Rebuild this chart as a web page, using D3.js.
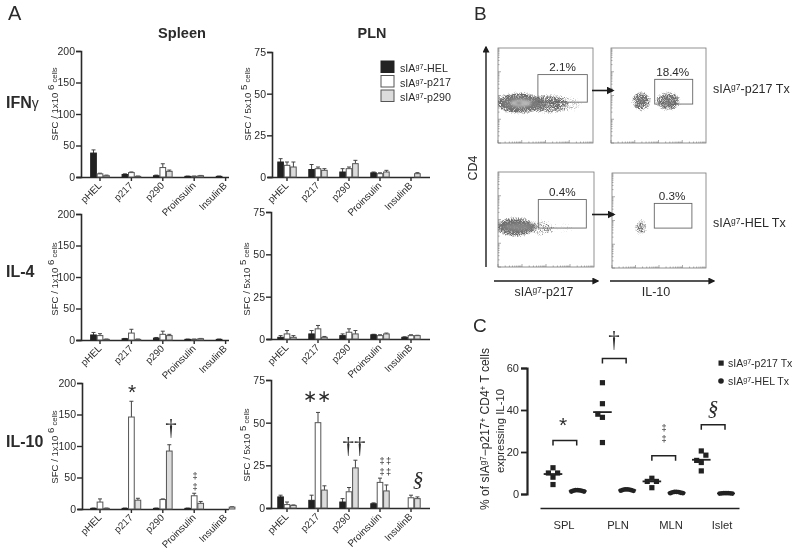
<!DOCTYPE html>
<html><head><meta charset="utf-8">
<script src="https://cdnjs.cloudflare.com/ajax/libs/d3/7.8.5/d3.min.js"></script>
<style>
html,body{margin:0;padding:0;background:#fff}
svg{display:block;filter:blur(0.3px)}
text{font-family:"Liberation Sans",Arial,sans-serif;fill:#2b2b2b}
</style></head><body>
<svg id="c" width="800" height="557"></svg>
<script>
// ---- data ----
const categories = ["pHEL","p217","p290","Proinsulin","InsulinB"];
const seriesNames = ["HEL","p217","p290"];
const spleenTicks = [0,50,100,150,200];
const plnTicks = [0,25,50,75];

const ifnSpleenVals = [[38,5,2],[4,7,1],[2,15,9],[1,1,2],[1,0,0]];
const ifnSpleenErr  = [[5,1,1],[1,1,.5],[1,6,2],[.5,.5,.5],[.5,0,0]];
const ifnPlnVals = [[9,7,6],[4.5,5,4],[3,5,8],[2.5,2,3],[0,0,2]];
const ifnPlnErr  = [[2,2,3],[3,1,1],[2,1,2],[.5,.5,1],[0,0,.6]];
const il4SpleenVals = [[8,7,1],[2,11,1],[3,9,7],[1,1,2],[1,0,0]];
const il4SpleenErr  = [[4,3,.5],[.5,6,.5],[1,5,2],[.5,.5,.5],[.5,0,0]];
const il4PlnVals = [[1,3,1],[3,6,1],[2,4,3],[2.5,2,3],[1,2,2]];
const il4PlnErr  = [[1,2,1],[2,2,.5],[1,2,2],[.3,.5,.5],[.3,.5,.2]];
const il10SpleenVals = [[1,11,1],[1,146,14],[1,15,92],[1,21,9],[0,0,3]];
const il10SpleenErr  = [[.5,5,.5],[.5,25,3],[.5,1,10],[.5,4,3],[0,0,.5]];
const il10PlnVals = [[6.5,2,1.5],[4.5,50,10.5],[3.5,9.5,23.5],[2.5,15,10],[0,6,5.5]];
const il10PlnErr  = [[1,1.5,.3],[3,6,2.5],[2,2.5,4.5],[.5,2.5,3.5],[0,1.5,1]];

const scatterGroups = ["SPL","PLN","MLN","Islet"];
const p217Points = [[4.5,12.5,8,10,10],[53,43,24.5,36.5,38],[3,7.5,6,6],[20.5,11,15,16,18.5]];
const helPoints  = [[1.2,1.6,1.8,1.8,1.7,1.5,1.2],[1.6,2,2.2,2.2,2.1,1.8,1.5],[.4,.8,1,1,.9,.6,.4],[.2,.3,.4,.4,.4,.3,.2]];
const p217Means = [9.5,39,6,16.3];
const helMeans  = [1.5,1.9,.7,.3];
const scatterTicks = [0,20,40,60];
const bracketLevels = [25.5,64.5,18.2,33];

const flowPct = ["2.1%","18.4%","0.4%","0.3%"];

// ---- helpers ----
const svg = d3.select("#c");
const barFill = ["#222","#fff","#dcdcdc"];
const barStroke = ["#222","#555","#555"];

function sup(sel, parts){ // parts: [text, isSup]
  parts.forEach(([t,s],i)=>{
    const ts = sel.append("tspan").text(t);
    if(s){ ts.attr("dy","-0.4em").attr("font-size","0.68em"); }
    else if(i>0 && parts[i-1][1]){ ts.attr("dy","0.27em"); }
  });
  return sel;
}
function barPanel(cfg){
  const {x0,x1,yTop,y0,max,ticks,vals,errs,first,step,title,power,titleX,titleY} = cfg;
  const g = svg.append("g");
  const y = d3.scaleLinear().domain([0,max]).range([y0,yTop]);
  const x = d3.scaleBand().domain(categories)
    .range([first-step/2, first+step*4.5]).paddingInner(.38).paddingOuter(.19);
  const xi = d3.scaleBand().domain(seriesNames).range([0,x.bandwidth()]);
  const gy = g.append("g").attr("transform",`translate(${x0},0)`)
    .call(d3.axisLeft(y).tickValues(ticks).tickSize(5).tickPadding(1));
  const gx = g.append("g").attr("transform",`translate(0,${y0})`)
    .call(d3.axisBottom(x).tickSize(4).tickPadding(2));
  gx.select(".domain").attr("d",`M${x0-4},0.5H${x1}`);
  [gx,gy].forEach(a=>{a.selectAll(".domain").attr("stroke","#2a2a2a").attr("stroke-width",1.6);
    a.selectAll(".tick line").attr("stroke","#2a2a2a").attr("stroke-width",1.4);});
  gy.selectAll("text").attr("font-size",10.5).attr("fill","#333").style("font-family",'"Liberation Sans"');
  gx.selectAll("text").attr("font-size",9.8).attr("fill","#333").style("font-family",'"Liberation Sans"')
    .attr("text-anchor","end").attr("dx","-5").attr("dy","2").attr("transform","rotate(-45)");
  const groups = g.selectAll(".grp").data(categories).join("g")
    .attr("transform",c=>`translate(${x(c)},0)`);
  groups.each(function(c,ci){
    const gg = d3.select(this);
    seriesNames.forEach((s,si)=>{
      const v = vals[ci][si], e = errs[ci][si];
      if(v<=0) return;
      const bx = xi(s), bw = xi.bandwidth(), cx = bx+bw/2;
      if(e>0){
        gg.append("line").attr("x1",cx).attr("x2",cx).attr("y1",y(v)).attr("y2",y(v+e)).attr("stroke","#444").attr("stroke-width",1);
        gg.append("line").attr("x1",cx-2).attr("x2",cx+2).attr("y1",y(v+e)).attr("y2",y(v+e)).attr("stroke","#444").attr("stroke-width",1);
      }
      gg.append("rect").attr("x",bx+.4).attr("width",bw-.8).attr("y",y(v)).attr("height",Math.max(0.5,y0-y(v)))
        .attr("fill",barFill[si]).attr("stroke",barStroke[si]).attr("stroke-width",1);
    });
  });
  const t = g.append("text").attr("font-size",9.6).attr("fill","#444")
    .attr("transform",`translate(${titleX},${titleY}) rotate(-90)`).attr("text-anchor","middle");
  t.append("tspan").text(title);
  t.append("tspan").text(" "+power).attr("dy",-4);
  t.append("tspan").text(" cells").attr("dy",3).attr("font-size",7.6);
}
const S = {first:100,step:31.4,x1:229,max:200,ticks:spleenTicks};
const P = {first:287,step:31,x1:430,max:75,ticks:plnTicks};
barPanel({...S,x0:81,yTop:51,y0:177,vals:ifnSpleenVals,errs:ifnSpleenErr,title:"SFC / 1x10",power:"6",titleX:58,titleY:104});
barPanel({...P,x0:272,yTop:52,y0:177,vals:ifnPlnVals,errs:ifnPlnErr,title:"SFC / 5x10",power:"5",titleX:251,titleY:104});
barPanel({...S,x0:81,yTop:214,y0:340,vals:il4SpleenVals,errs:il4SpleenErr,title:"SFC / 1x10",power:"6",titleX:58,titleY:279});
barPanel({...P,x0:271,yTop:212,y0:339,vals:il4PlnVals,errs:il4PlnErr,title:"SFC / 5x10",power:"5",titleX:250,titleY:279});
barPanel({...S,x0:82,yTop:383,y0:509,vals:il10SpleenVals,errs:il10SpleenErr,title:"SFC / 1x10",power:"6",titleX:58,titleY:447});
barPanel({...P,x0:271,yTop:380,y0:508,vals:il10PlnVals,errs:il10PlnErr,title:"SFC / 5x10",power:"5",titleX:250,titleY:445});

function label(t,x,y,size,opt={}){
  const e = svg.append("text").attr("x",x).attr("y",y).attr("font-size",size)
    .attr("font-weight",opt.bold?"bold":null).attr("text-anchor",opt.anchor||"start").text(t);
  if(opt.serif) e.style("font-family",'"Liberation Serif"');
  if(opt.italic) e.attr("font-style","italic");
  return e;
}
label("A",8,20,20); label("B",474,20,19); label("C",473,332,19);
label("Spleen",182,38,14.6,{bold:1,anchor:"middle"});
label("PLN",372,38,14.4,{bold:1,anchor:"middle"});
const ifn = label("IFN",6,108,16,{bold:1});
ifn.append("tspan").text("γ").attr("font-weight","normal").attr("font-size",14);
label("IL-4",6,277,16,{bold:1});
label("IL-10",6,447,16,{bold:1});

// significance marks
const marks = [["*",132,399,21],["∗∗",317,402,17],["*",563,432,21]];
marks.forEach(([t,x,y,s])=>label(t,x,y,s,{anchor:"middle"}));
const daggers = [["†",171,435,23],["††",354,453,23],["†",614,347,23]];
daggers.forEach(([t,x,y,s])=>label(t,x,y,s,{anchor:"middle",serif:1}));
const sections = [["§",418,486,21],["§",713,415,21]];
sections.forEach(([t,x,y,s])=>label(t,x,y,s,{anchor:"middle",serif:1,italic:1}));
// double daggers are stacked as separate texts, small enough not to collide
const stacked = [["‡",195,479],["‡",195,490],["‡‡",386,464],["‡‡",386,475],["‡",664,431],["‡",664,442]];
stacked.forEach(([t,x,y])=>label(t,x,y,9.2,{anchor:"middle"}).attr("letter-spacing",t.length>1?1.5:0));

// legend A
[["HEL",61],["p217",75.5],["p290",90]].forEach(([n,y],i)=>{
  svg.append("rect").attr("x",381).attr("y",y).attr("width",13).attr("height",11.5)
    .attr("fill",barFill[i]).attr("stroke",barStroke[i]).attr("stroke-width",1);
  sup(svg.append("text").attr("x",400).attr("y",y+11).attr("font-size",10.7),
    [["sIA",false],["g7",true],["-"+n,false]]);
});

// ---- flow plots ----
const defs = svg.append("defs");
function speck(id,blur,seed){
  const f = defs.append("filter").attr("id",id).attr("x","-40%").attr("y","-60%").attr("width","180%").attr("height","220%")
    .attr("color-interpolation-filters","sRGB");
  f.append("feGaussianBlur").attr("in","SourceGraphic").attr("stdDeviation",blur).attr("result","b");
  f.append("feTurbulence").attr("type","fractalNoise").attr("baseFrequency",1.3).attr("numOctaves",1).attr("seed",seed).attr("result","n");
  f.append("feColorMatrix").attr("in","n").attr("type","matrix")
    .attr("values","0 0 0 0 .42  0 0 0 0 .42  0 0 0 0 .42  1.6 0 0 0 -.2").attr("result","d");
  f.append("feComposite").attr("in","d").attr("in2","b").attr("operator","in").attr("result","m");
  const ct = f.append("feComponentTransfer").attr("in","m");
  ct.append("feFuncA").attr("type","linear").attr("slope",3.2).attr("intercept",-.75);
}
speck("sp1",2.4,3); speck("sp2",2.8,8);
const soft = defs.append("filter").attr("id","soft"); soft.append("feGaussianBlur").attr("stdDeviation",1.2);

// cloud values in plot units (0-100): cx, cy, rx, ry, opacity
const cloudsA = [[22,58,24,11,1],[52,59,20,10,.75],[72,59,18,10,.42]];
const coreA = [[24,58,20,7,"#808080",.7],[24,58,11,3.6,"#bdbdbd",.9],[22,58,3,1,"#666",.9],[44,59,8,6,"#777",.6]];
const cloudsB = [[32,56,10,10,.9],[60,56,13,10,.85]];
const cloudsC = [[18,58,20,10,1],[46,59,10,10,.5],[66,59,16,9,.32]];
const coreC = [[21,58,19,6,"#777",.75],[21,58,14,3,"#8f8f8f",.7]];
const cloudsD = [[31,57,7,9,.68]];
const gateRects = [[42,28,94,57],[46,33,86,59],[42,29,92,59],[45,32,85,58]];
const flowClouds = [cloudsA,cloudsB,cloudsC,cloudsD];
const flowCores = [coreA,[[32,56,5,4,"#777",.55],[60,56,7,4,"#777",.5]],coreC,[[31,57,2,2,"#777",.45]]];
const flowBox = [[498,593,48,143],[611,706,48,143],[498,594,172,267],[612,706,173,268]];
const decades = d3.range(1,10).flatMap(m=>[m,m*10,m*100,m*1000]);

flowBox.forEach(([l,r,t,b],i)=>{
  const x = d3.scaleLinear().domain([0,100]).range([l,r]);
  const y = d3.scaleLinear().domain([0,100]).range([t,b]);
  const g = svg.append("g");
  g.append("rect").attr("x",l).attr("y",t).attr("width",r-l).attr("height",b-t).attr("fill","#fff").attr("stroke","#777").attr("stroke-width",.8);
  const clip = "cp"+i;
  defs.append("clipPath").attr("id",clip).append("rect").attr("x",l).attr("y",t).attr("width",r-l).attr("height",b-t);
  const inner = g.append("g").attr("clip-path",`url(#${clip})`);
  const cl = inner.append("g").attr("filter",`url(#${i%2?"sp2":"sp1"})`);
  flowClouds[i].forEach(c=>cl.append("ellipse").attr("cx",x(c[0])).attr("cy",y(c[1]))
    .attr("rx",x(c[2])-x(0)).attr("ry",y(c[3])-y(0)).attr("fill","#000").attr("fill-opacity",c[4]));
  const co = inner.append("g").attr("filter","url(#soft)");
  flowCores[i].forEach(c=>co.append("ellipse").attr("cx",x(c[0])).attr("cy",y(c[1]))
    .attr("rx",x(c[2])-x(0)).attr("ry",y(c[3])-y(0)).attr("fill",c[4]).attr("fill-opacity",c[5]));
  // log ticks on the bottom and left edges
  const lx = d3.scaleLog().domain([1,10000]).range([l,r]);
  const ly = d3.scaleLog().domain([1,10000]).range([b,t]);
  decades.forEach(d=>{
    const major = [1,10,100,1000].includes(d);
    g.append("line").attr("x1",lx(d)).attr("x2",lx(d)).attr("y1",b).attr("y2",b-(major?3:1.5)).attr("stroke","#777").attr("stroke-width",.6);
    g.append("line").attr("y1",ly(d)).attr("y2",ly(d)).attr("x1",l).attr("x2",l+(major?3:1.5)).attr("stroke","#777").attr("stroke-width",.6);
  });
  const gr = gateRects[i];
  g.append("rect").attr("x",x(gr[0])).attr("y",y(gr[1])).attr("width",x(gr[2])-x(gr[0])).attr("height",y(gr[3])-y(gr[1]))
    .attr("fill","none").attr("stroke","#666").attr("stroke-width",.9);
  label(flowPct[i],(x(gr[0])+x(gr[2]))/2+(i%2?-1:0),y(gr[1])-3.5,11.7,{anchor:"middle"});
});

const mk = defs.append("marker").attr("id","ah").attr("viewBox","0 0 10 10").attr("refX",8).attr("refY",5)
  .attr("markerWidth",5).attr("markerHeight",5).attr("markerUnits","strokeWidth").attr("orient","auto");
mk.append("path").attr("d","M0,0L10,5L0,10Z").attr("fill","#1c1c1c");
function arrow(x1,y1,x2,y2,w){
  svg.append("line").attr("x1",x1).attr("y1",y1).attr("x2",x2).attr("y2",y2).attr("stroke","#1c1c1c").attr("stroke-width",w).attr("marker-end","url(#ah)");
}
arrow(486,267,486,47,1.4); arrow(494,281,598,281,1.4); arrow(610,281,714,281,1.4);
arrow(592,90.5,613,90.5,1.6); arrow(592,214.5,614,214.5,1.6);
sup(svg.append("text").attr("x",544).attr("y",296).attr("font-size",12.4).attr("text-anchor","middle"),[["sIA",false],["g7",true],["-p217",false]]);
label("IL-10",656,296,12.6,{anchor:"middle"});
svg.append("text").attr("transform","translate(477,168) rotate(-90)").attr("font-size",12.5).attr("text-anchor","middle").text("CD4");
sup(svg.append("text").attr("x",713).attr("y",93).attr("font-size",12.5),[["sIA",false],["g7",true],["-p217 Tx",false]]);
sup(svg.append("text").attr("x",713).attr("y",227).attr("font-size",12.5),[["sIA",false],["g7",true],["-HEL Tx",false]]);

// ---- panel C ----
const yC = d3.scaleLinear().domain([0,60]).range([494,368]);
const gyC = svg.append("g").attr("transform","translate(527,0)").call(d3.axisLeft(yC).tickValues(scatterTicks).tickSize(6).tickPadding(2));
gyC.select(".domain").attr("stroke","#222").attr("stroke-width",2.2);
gyC.selectAll(".tick line").attr("stroke","#222").attr("stroke-width",1.8);
gyC.selectAll("text").attr("font-size",11).attr("fill","#333").style("font-family",'"Liberation Sans"');
const xC = d3.scaleBand().domain(scatterGroups).range([540,739]);
const slots = d3.scalePoint().domain(d3.range(8)).range([553,726]);
const gxC = svg.append("g").attr("transform","translate(0,508)").call(d3.axisBottom(xC).tickSize(0).tickPadding(13));
gxC.select(".domain").attr("stroke","#222").attr("stroke-width",1.6);
gxC.selectAll("text").attr("font-size",11.2).attr("fill","#333").style("font-family",'"Liberation Sans"');
const labelX = [564,618,671,722];
gxC.selectAll(".tick").attr("transform",(d,i)=>`translate(${labelX[i]},0)`);

function swarm(vals){ // greedy sideways offset so that points that collide move aside
  const placed=[], step=4.6, minDy=5.5;
  return vals.map(v=>{
    const py=yC(v);
    let k=0,off=0;
    while(placed.some(p=>Math.abs(p.o-off)<4&&Math.abs(p.y-py)<minDy)){k++;off=(k%2?-1:1)*Math.ceil(k/2)*step;}
    placed.push({y:py,o:off});
    return off;
  });
}
scatterGroups.forEach((g,i)=>{
  const a=slots(i*2), b=slots(i*2+1);
  const oa = swarm(p217Points[i]);
  p217Points[i].forEach((v,j)=>svg.append("rect").attr("x",a+oa[j]-2.6).attr("y",yC(v)-2.6).attr("width",5.2).attr("height",5.2).attr("fill","#222"));
  const n=helPoints[i].length;
  helPoints[i].forEach((v,j)=>svg.append("circle").attr("cx",b+(j-(n-1)/2)*2.1).attr("cy",yC(v)).attr("r",2.4).attr("fill","#222"));
  svg.append("line").attr("x1",a-9.3).attr("x2",a+9.3).attr("y1",yC(p217Means[i])).attr("y2",yC(p217Means[i])).attr("stroke","#222").attr("stroke-width",1.8);
  svg.append("line").attr("x1",b-9).attr("x2",b+9).attr("y1",yC(helMeans[i])).attr("y2",yC(helMeans[i])).attr("stroke","#222").attr("stroke-width",1.2);
  const by=yC(bracketLevels[i]);
  svg.append("path").attr("d",`M${a},${by+5}V${by}H${b-1}V${by+5}`).attr("fill","none").attr("stroke","#222").attr("stroke-width",1.5);
});
const cT = svg.append("text").attr("transform","translate(489,429) rotate(-90)").attr("font-size",12).attr("text-anchor","middle");
sup(cT,[["% of sIA",false],["g7",true],["−p217",false],["+",true],[" CD4",false],["+",true],[" T cells",false]]);
svg.append("text").attr("transform","translate(504,431) rotate(-90)").attr("font-size",11.4).attr("text-anchor","middle").text("expressing IL-10");
svg.append("rect").attr("x",718.5).attr("y",360.5).attr("width",5.2).attr("height",5.2).attr("fill","#222");
svg.append("circle").attr("cx",721).attr("cy",381).attr("r",2.8).attr("fill","#222");
sup(svg.append("text").attr("x",728).attr("y",367).attr("font-size",10.5),[["sIA",false],["g7",true],["-p217 Tx",false]]);
sup(svg.append("text").attr("x",728).attr("y",385).attr("font-size",10.5),[["sIA",false],["g7",true],["-HEL Tx",false]]);
</script></body></html>
